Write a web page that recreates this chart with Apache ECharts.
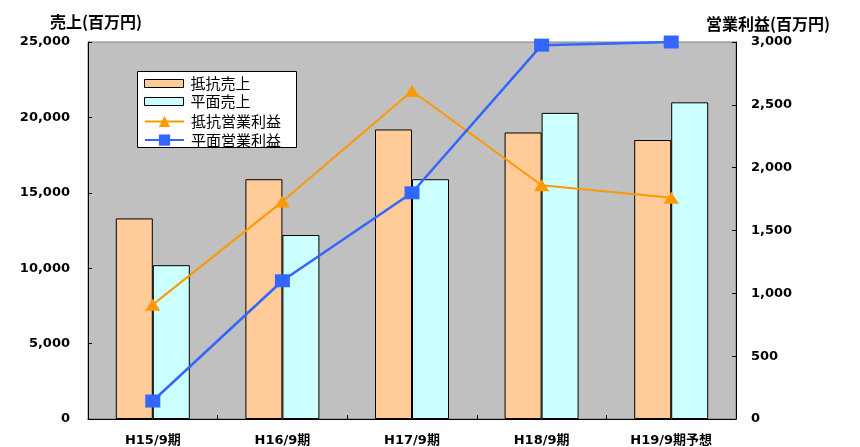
<!DOCTYPE html>
<html>
<head>
<meta charset="utf-8">
<script src="https://cdn.jsdelivr.net/npm/echarts@6/dist/echarts.min.js"></script>
<style>
  html, body { margin: 0; padding: 0; background: #ffffff; }
  #chart { width: 860px; height: 447px; }
</style>
</head>
<body>
<div id="chart"></div>
<script>
// Fiscal periods (September year-end)
const categories = ['H15/9期', 'H16/9期', 'H17/9期', 'H18/9期', 'H19/9期予想'];

// Sales, millions of yen (left axis)
const salesResistor = [13300, 15900, 19200, 19000, 18500];
const salesPlanar   = [10200, 12200, 15900, 20300, 21000];

// Operating profit, millions of yen (right axis)
const profitResistor = [910, 1730, 2610, 1860, 1760];
const profitPlanar   = [143, 1100, 1800, 2975, 3000];

// Axis tick values
const salesTicks  = [0, 5000, 10000, 15000, 20000, 25000];
const profitTicks = [0, 500, 1000, 1500, 2000, 2500, 3000];

// Series / axis titles
const seriesNames = ['抵抗売上', '平面売上', '抵抗営業利益', '平面営業利益'];
const salesTitle  = '売上(百万円)';
const profitTitle = '営業利益(百万円)';

const numFont = "'DejaVu Sans', 'Noto Sans CJK JP', sans-serif";
const cjkFont = "'Noto Sans CJK JP', 'DejaVu Sans', sans-serif";
const fmt = v => Number(v).toLocaleString('en-US');

const chart = echarts.init(document.getElementById('chart'), null, { renderer: 'canvas' });

chart.setOption({
  animation: false,
  backgroundColor: '#ffffff',
  title: [
    { text: salesTitle, left: 50, top: 14, padding: 0,
      textStyle: { fontFamily: cjkFont, fontSize: 16, fontWeight: 'bold', color: '#000' } },
    { text: profitTitle, left: 706, top: 16, padding: 0,
      textStyle: { fontFamily: cjkFont, fontSize: 16, fontWeight: 'bold', color: '#000' } }
  ],
  grid: {
    left: 88, right: 124, top: 42, bottom: 28,
    show: true, backgroundColor: '#C0C0C0', borderColor: '#808080', borderWidth: 1,
    containLabel: false, outerBoundsMode: 'none'
  },
  graphic: [{
    type: 'rect', z: 3,
    shape: { x: 137.5, y: 71.5, width: 159, height: 76 },
    style: { fill: '#ffffff', stroke: '#000000', lineWidth: 1 }
  }],
  legend: [
    {
      data: [
        { name: seriesNames[0], icon: 'rect', itemStyle: { color: '#FFCC99', borderColor: '#000', borderWidth: 1 } },
        { name: seriesNames[1], icon: 'rect', itemStyle: { color: '#CCFFFF', borderColor: '#000', borderWidth: 1 } }
      ],
      orient: 'vertical', left: 144, top: 76, padding: 0, z: 6,
      itemWidth: 39, itemHeight: 8, itemGap: 3, selectedMode: false,
      textStyle: { fontFamily: cjkFont, fontSize: 15, color: '#000', padding: [0, 0, 0, 2] }
    },
    {
      data: [seriesNames[2], seriesNames[3]],
      orient: 'vertical', left: 144, top: 114, padding: 0, z: 6,
      itemWidth: 39, itemHeight: 14, itemGap: 3.6, selectedMode: false,
      textStyle: { fontFamily: cjkFont, fontSize: 15, color: '#000', padding: [0, 0, 0, 2] }
    }
  ],
  xAxis: {
    type: 'category',
    data: categories,
    boundaryGap: true,
    axisLine: { show: true, lineStyle: { color: '#000', width: 1 } },
    axisTick: { show: true, inside: true, length: 4, alignWithLabel: false, lineStyle: { color: '#000' } },
    axisLabel: { margin: 15, fontFamily: numFont, fontSize: 13, fontWeight: 'bold', color: '#000', interval: 0 },
    splitLine: { show: false }
  },
  yAxis: [
    {
      type: 'value', position: 'left',
      min: salesTicks[0], max: salesTicks[salesTicks.length - 1],
      interval: salesTicks[1] - salesTicks[0],
      axisLine: { show: true, lineStyle: { color: '#000', width: 1 } },
      axisTick: { show: true, inside: true, length: 4, lineStyle: { color: '#000' } },
      axisLabel: { margin: 18, formatter: fmt, fontFamily: numFont, fontSize: 13, fontWeight: 'bold', color: '#000',
                   showMinLabel: true, showMaxLabel: true },
      splitLine: { show: false }
    },
    {
      type: 'value', position: 'right',
      min: profitTicks[0], max: profitTicks[profitTicks.length - 1],
      interval: profitTicks[1] - profitTicks[0],
      axisLine: { show: true, lineStyle: { color: '#000', width: 1 } },
      axisTick: { show: true, inside: true, length: 4, lineStyle: { color: '#000' } },
      axisLabel: { margin: 15, formatter: fmt, fontFamily: numFont, fontSize: 13, fontWeight: 'bold', color: '#000',
                   showMinLabel: true, showMaxLabel: true },
      splitLine: { show: false }
    }
  ],
  series: [
    {
      name: seriesNames[0], type: 'bar', yAxisIndex: 0, data: salesResistor,
      barWidth: 37, barGap: '0%',
      itemStyle: { color: '#FFCC99', borderColor: '#000', borderWidth: 1 }
    },
    {
      name: seriesNames[1], type: 'bar', yAxisIndex: 0, data: salesPlanar,
      barWidth: 37, barGap: '0%',
      itemStyle: { color: '#CCFFFF', borderColor: '#000', borderWidth: 1 }
    },
    {
      name: seriesNames[2], type: 'line', yAxisIndex: 1, data: profitResistor,
      symbol: 'triangle', symbolSize: [15, 12], showAllSymbol: true, clip: false, z: 5,
      lineStyle: { color: '#FF9900', width: 2 },
      itemStyle: { color: '#FF9900' }
    },
    {
      name: seriesNames[3], type: 'line', yAxisIndex: 1, data: profitPlanar,
      symbol: 'rect', symbolSize: [15, 13], showAllSymbol: true, clip: false, z: 6,
      lineStyle: { color: '#3366FF', width: 2.5 },
      itemStyle: { color: '#3366FF' }
    }
  ]
});
</script>
</body>
</html>
